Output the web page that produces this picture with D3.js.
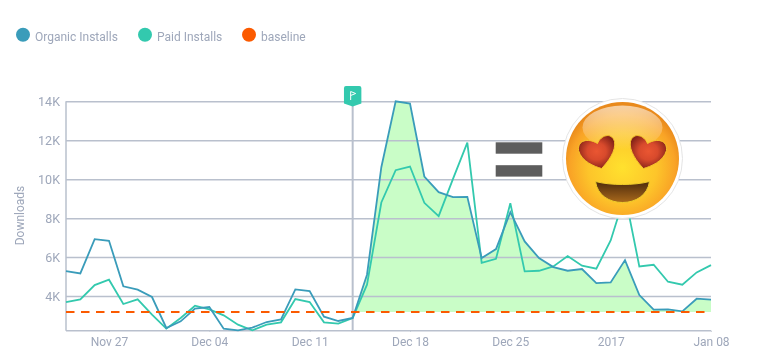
<!DOCTYPE html>
<html><head><meta charset="utf-8">
<script src="https://cdn.jsdelivr.net/npm/d3@7/dist/d3.min.js"></script>
<style>html,body{margin:0;padding:0;background:#fff}svg{display:block;filter:blur(.3px)}
text{font-family:Roboto,sans-serif}</style></head><body><div id="c"></div>
<script>
const startDate = "2016-11-24";
const organic = [5280,5160,6920,6840,4500,4325,3950,2360,2700,3350,3436,2325,2240,2376,2667,2803,4342,4256,2940,2718,2872,5094,10615,14000,13880,10137,9333,9077,9094,5949,6410,8308,6803,5949,5487,5299,5385,4667,4701,5846,4051,3299,3316,3214,3863,3812];
const paid = [3692,3829,4564,4838,3590,3829,3043,2325,2872,3504,3316,3009,2530,2240,2530,2650,3846,3692,2650,2581,2872,4581,8803,10462,10650,8786,8103,10017,11880,5709,5915,8769,5265,5299,5521,6051,5556,5402,6855,9197,5521,5607,4735,4581,5214,5590];
const baseline = 3180;
const flagDate = "2016-12-14";
const yTicks = [4000,6000,8000,10000,12000,14000];
const xTickDates = ["2016-11-27","2016-12-04","2016-12-11","2016-12-18","2016-12-25","2017-01-01","2017-01-08"];
const xTickLabels = ["Nov 27","Dec 04","Dec 11","Dec 18","Dec 25","2017","Jan 08"];
const legendNames = ["Organic Installs","Paid Installs","baseline"];
const legendColors = ["#3a9cba","#33c9ae","#fb5a00"];

const W=757,H=363;
const parse=d3.utcParse("%Y-%m-%d");
const t0=parse(startDate), day=864e5;
const dates=organic.map((_,i)=>new Date(+t0+i*day));
const x=d3.scaleUtc().domain([t0,parse("2017-01-08")]).range([66,711]);
const y=d3.scaleLinear().domain([2220,14000]).range([330.7,101.3]);
const svg=d3.select("#c").append("svg").attr("width",W).attr("height",H);
const defs=svg.append("defs");
const GRID="#b9c0cd", TXT="#9ea7ba";

// area fills
const fx=x(parse(flagDate));
defs.append("clipPath").attr("id","above").append("rect").attr("x",fx).attr("y",0).attr("width",W).attr("height",y(baseline));
defs.append("clipPath").attr("id","below").append("rect").attr("x",fx).attr("y",y(baseline)).attr("width",W).attr("height",H);
const area=d3.area().x((d,i)=>x(dates[i])).y0(y(baseline)).y1(d=>y(d));
svg.append("path").datum(organic).attr("d",area).attr("fill","#c9fdc7").attr("clip-path","url(#above)");
svg.append("path").datum(organic).attr("d",area).attr("fill","#fdd5d5").attr("clip-path","url(#below)");

// y axis
const gy=svg.append("g").attr("transform","translate(66,0)")
 .call(d3.axisLeft(y).tickValues(yTicks).tickSize(-645).tickPadding(6).tickFormat(d=>d/1000+"K"));
gy.select(".domain").attr("stroke",GRID).attr("stroke-width",1.5).attr("d","M0,101.3V330.7");
gy.selectAll(".tick line").attr("stroke",GRID).attr("stroke-width",1.5);
gy.selectAll("text").attr("fill",TXT).attr("font-size",12.5).attr("font-family","Roboto");

// x axis
const gx=svg.append("g").attr("transform","translate(0,330.7)")
 .call(d3.axisBottom(x).tickValues(xTickDates.map(parse)).tickSize(1).tickPadding(6).tickFormat((d,i)=>xTickLabels[i]));
gx.select(".domain").attr("stroke",GRID).attr("stroke-width",1.5).attr("d","M66,0H711");
gx.selectAll(".tick line").attr("stroke",GRID);
gx.selectAll("text").attr("fill",TXT).attr("font-size",12).attr("font-family","Roboto");

svg.append("text").attr("transform","translate(24,215.5) rotate(-90)").attr("text-anchor","middle")
 .attr("fill",TXT).attr("font-size",12).text("Downloads");

// annotation
svg.append("line").attr("x1",fx).attr("x2",fx).attr("y1",100).attr("y2",330.7).attr("stroke",GRID).attr("stroke-width",2);

// lines
const line=d3.line().x((d,i)=>x(dates[i])).y(d=>y(d));
svg.append("path").datum(paid).attr("d",line).attr("fill","none").attr("stroke",legendColors[1]).attr("stroke-width",1.8);
svg.append("path").datum(organic).attr("d",line).attr("fill","none").attr("stroke",legendColors[0]).attr("stroke-width",1.8);
svg.append("line").attr("x1",66).attr("x2",711).attr("y1",y(baseline)).attr("y2",y(baseline))
 .attr("stroke",legendColors[2]).attr("stroke-width",2).attr("stroke-dasharray","8.5 6.5");

// flag marker
const fg=svg.append("g").attr("transform",`translate(${fx},0)`);
fg.append("path").attr("d","M-8.7,88a2,2 0 0 1 2,-2H6.7a2,2 0 0 1 2,2V103.5L0,106.5L-8.7,103.5Z").attr("fill","#33c9ae");
fg.append("path").attr("d","M-2,100V91.5L3,93.5L-2,95.5").attr("fill","none").attr("stroke","#fff").attr("stroke-width",1);

// legend
const lx=[23,145,249], tx=[35,157,261];
legendNames.forEach((n,i)=>{
 svg.append("circle").attr("cx",lx[i]).attr("cy",34.7).attr("r",7).attr("fill",legendColors[i]);
 svg.append("text").attr("x",tx[i]).attr("y",41).attr("fill",TXT).attr("font-size",12).text(n);
});

// equals sign
svg.append("rect").attr("x",495.7).attr("y",142.3).attr("width",46.6).attr("height",11.4).attr("fill","#5d5d5d");
svg.append("rect").attr("x",495.7).attr("y",165.2).attr("width",46.6).attr("height",11.4).attr("fill","#5d5d5d");

// emoji
const rg=(id,stops,o={})=>{const g=defs.append("radialGradient").attr("id",id);Object.entries(o).forEach(([k,v])=>g.attr(k,v));
 stops.forEach(s=>g.append("stop").attr("offset",s[0]).attr("stop-color",s[1]));};
rg("face",[[0,"#ffe12e"],[.55,"#fdc52a"],[.85,"#f9a326"],[1,"#e98a1c"]],{cx:"50%",cy:"58%",r:"55%"});
rg("heart",[[0,"#ea5632"],[.45,"#d84a2c"],[1,"#7d1f16"]],{cx:"50%",cy:"48%",r:"58%"});
const lg=defs.append("linearGradient").attr("id","mouth").attr("x1",0).attr("x2",0).attr("y1",0).attr("y2",1);
lg.append("stop").attr("offset",0).attr("stop-color","#4d2a0c");lg.append("stop").attr("offset",1).attr("stop-color","#a9691c");
const lg2=defs.append("linearGradient").attr("id","shine").attr("x1",0).attr("x2",0).attr("y1",0).attr("y2",1);
lg2.append("stop").attr("offset",0).attr("stop-color","#fff").attr("stop-opacity",.6);lg2.append("stop").attr("offset",1).attr("stop-color","#fff").attr("stop-opacity",0);
const e=svg.append("g").attr("transform","translate(622.5,158.5)");
e.append("circle").attr("r",60).attr("fill","#fff").attr("stroke","#e4e4e4").attr("stroke-width",1);
e.append("circle").attr("r",56.5).attr("fill","url(#face)");
e.append("ellipse").attr("cy",-31).attr("rx",40).attr("ry",22).attr("fill","url(#shine)");
const heart="M-25,-15C-22,-23 -11,-27 -8,-17C-6,-8 -15,4 -21,10C-28,8 -41,3 -44,-8C-45,-18 -35,-21 -25,-15Z";
e.append("path").attr("d",heart).attr("fill","url(#heart)").attr("stroke","#f6c52c").attr("stroke-width",1);
e.append("path").attr("d",heart).attr("transform","scale(-1,1)").attr("fill","url(#heart)").attr("stroke","#f6c52c").attr("stroke-width",1);
e.append("path").attr("d","M-27,23C-12,27 12,27 27,23C25,37 13,44 0,44C-13,44 -25,37 -27,23Z").attr("fill","url(#mouth)").attr("stroke","#f0cd2c").attr("stroke-width",1);
</script></body></html>
